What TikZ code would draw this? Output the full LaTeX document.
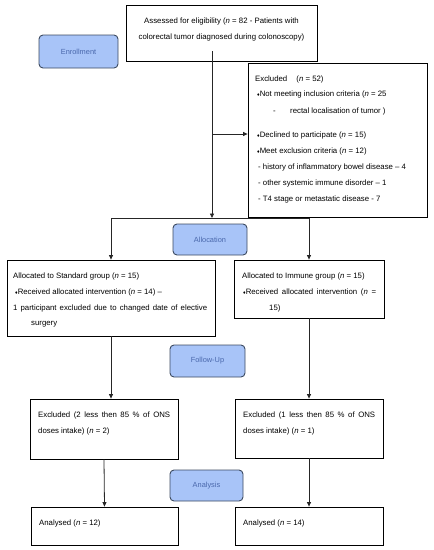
\documentclass[tikz,border=0pt]{standalone}
\usepackage{fontspec}
\setmainfont{Liberation Sans}
\usetikzlibrary{arrows.meta}
\definecolor{lblfill}{HTML}{A8C4F8}
\definecolor{lbldraw}{HTML}{3C4A60}
\definecolor{lbltext}{HTML}{4A68AC}
\newcommand{\bul}{{\fontsize{5}{5}\selectfont ♦}}
\newcommand{\mysz}{\fontsize{7.8}{16}\selectfont}
\tikzset{
  box/.style={draw=black, line width=0.8pt, inner sep=0pt},
  lbl/.style={draw=lbldraw, line width=0.9pt, fill=lblfill, rounded corners=4pt, inner sep=0pt, font=\fontsize{7.4}{9}\selectfont, text=lbltext},
  txt/.style={anchor=base west, inner sep=0pt, font=\mysz},
  ctxt/.style={anchor=base, inner sep=0pt, font=\mysz},
  conn/.style={draw=black!85, line width=0.8pt},
  arr/.style={conn, -{Triangle[length=4.5pt,width=4pt]}}
}
\begin{document}
\begin{tikzpicture}[x=1pt,y=-1pt]
\useasboundingbox (0,0) rectangle (434,550);
% boxes
\node[lbl, minimum width=79pt, minimum height=33pt] (enroll) at (78.5,51.5) {Enrollment};
\node[box, minimum width=191pt, minimum height=56pt] (assess) at (221.5,33) {};
\node[box, minimum width=179pt, minimum height=154pt] (excl) at (337.5,140) {};
\node[lbl, minimum width=74pt, minimum height=31pt] (alloc) at (210,239.5) {Allocation};
\node[box, minimum width=208pt, minimum height=76pt] (std) at (111,298) {};
\node[box, minimum width=150pt, minimum height=58pt] (imm) at (309,289) {};
\node[lbl, minimum width=75pt, minimum height=32pt] (follow) at (207.5,361) {Follow-Up};
\node[box, minimum width=148pt, minimum height=60pt] (exL) at (104,429) {};
\node[box, minimum width=148pt, minimum height=59pt] (exR) at (309,428.5) {};
\node[lbl, minimum width=73pt, minimum height=31pt] (analysis) at (206.5,485.5) {Analysis};
\node[box, minimum width=147pt, minimum height=38pt] (anL) at (104.5,526) {};
\node[box, minimum width=148pt, minimum height=38pt] (anR) at (309,526) {};
% texts
\node[ctxt] (a1) at (221.5,23.5) {Assessed for eligibility (\textit{n} = 82 - Patients with};
\node[ctxt] (a2) at (221.5,39.5) {colorectal tumor diagnosed during colonoscopy)};
\node[txt] (e1) at (255,81.5) {Excluded\hspace{7pt} (\textit{n} = 52)};
\node[txt] (e2) at (257,96.5) {\bul Not meeting inclusion criteria (\textit{n} = 25};
\node[txt] (e3a) at (273,113.5) {-};
\node[txt] (e3) at (290,113.5) {rectal localisation of tumor )};
\node[txt] (e4) at (257,137.5) {\bul Declined to participate (\textit{n} = 15)};
\node[txt] (e5) at (257,153.5) {\bul Meet exclusion criteria (\textit{n} = 12)};
\node[txt] (e6) at (258,169.5) {- history of inflammatory bowel disease – 4};
\node[txt] (e7) at (258,185.5) {- other systemic immune disorder – 1};
\node[txt] (e8) at (258,201.5) {- T4 stage or metastatic disease - 7};
\node[txt] (s1) at (13,278.5) {Allocated to Standard group (\textit{n} = 15)};
\node[txt] (s2) at (15,294.5) {\bul Received allocated intervention (\textit{n} = 14) –};
\node[txt] (s3) at (13,310.5) {\makebox[194pt][s]{1 participant excluded due to changed date of elective}};
\node[txt] (s4) at (31,325.5) {surgery};
\node[txt] (i1) at (242,278.5) {Allocated to Immune group (\textit{n} = 15)};
\node[txt] (i2) at (243,294.5) {\makebox[133pt][s]{\bul Received allocated intervention (\textit{n} =}};
\node[txt] (i3) at (269,310.5) {15)};
\node[txt] (l1) at (38,417.5) {\makebox[132pt][s]{Excluded (2 less then 85 \% of ONS}};
\node[txt] (l2) at (38,433.5) {doses intake) (\textit{n} = 2)};
\node[txt] (r1) at (243,417.5) {\makebox[132pt][s]{Excluded (1 less then 85 \% of ONS}};
\node[txt] (r2) at (243,433.5) {doses intake) (\textit{n} = 1)};
\node[txt] (n1) at (39,525.5) {Analysed (\textit{n} = 12)};
\node[txt] (n2) at (243,525.5) {Analysed (\textit{n} = 14)};
% connectors
\coordinate (top) at (212,51);
\coordinate (split) at (212,218);
\coordinate (splitL) at (111,218);
\coordinate (splitR) at (309,218);
\coordinate (brk) at (212,134);
\draw[arr] (top) -- (split);
\draw[arr] (brk) -- (brk -| excl.west);
\draw[conn] (splitL) -- (splitR);
\draw[arr] (splitL) -- (splitL |- std.north);
\draw[arr] (splitR) -- (splitR |- imm.north);
\draw[arr] (splitL |- std.south) -- (splitL |- exL.north);
\draw[arr] (imm.south) -- (exR.north);
\draw[arr] (exL.south) -- (anL.north);
\draw[arr] (exR.south) -- (anR.north);
\end{tikzpicture}
\end{document}
